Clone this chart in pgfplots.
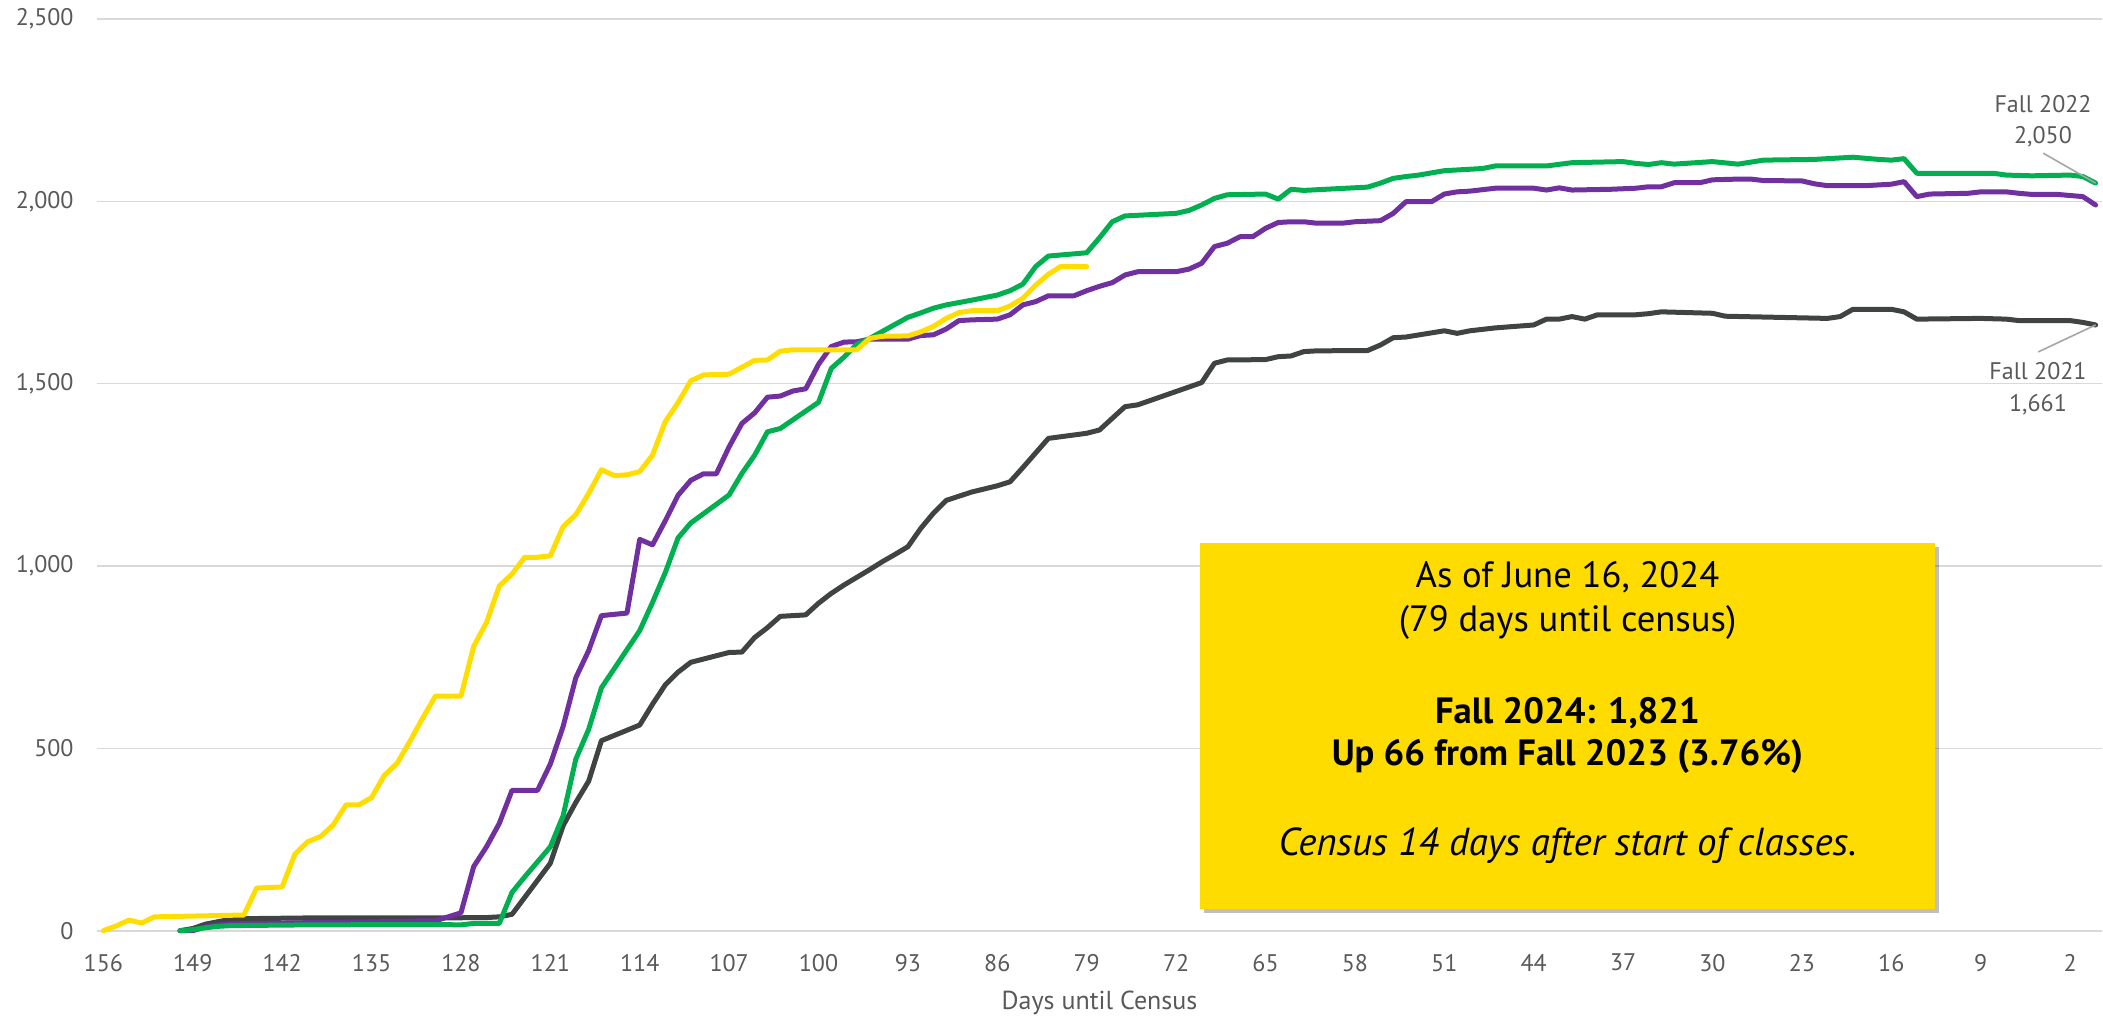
\documentclass[border=0pt]{standalone}
\usepackage{fontspec}
\setmainfont{PT Sans}
\usepackage{pgfplots}
\pgfplotsset{compat=1.18}
\usetikzlibrary{shadows}
\definecolor{cYel}{HTML}{FFDD00}
\definecolor{cPur}{HTML}{7030A0}
\definecolor{cGrn}{HTML}{00B050}
\definecolor{cGry}{HTML}{3F4443}
\definecolor{boxyel}{HTML}{FFDC00}
\definecolor{gridgray}{HTML}{D9D9D9}
\definecolor{labelgray}{HTML}{595959}
\definecolor{leadgray}{HTML}{A6A6A6}
\begin{document}
\begin{tikzpicture}
\useasboundingbox (-48.5pt,-44.15pt) rectangle (1003pt,465.35pt);
\begin{axis}[at={(0,0)}, anchor=south west, scale only axis,
  width=1002.5pt, height=455.85pt,
  xmin=-0.5, xmax=156.5, ymin=0, ymax=2500, x dir=reverse,
  xtick={2,9,...,156}, ytick={0,500,...,2500},
  ymajorgrids, grid style={draw=gridgray, line width=0.8pt},
  axis line style={draw=none}, major tick length=0pt, tick style={draw=none},
  ticklabel style={font=\fontsize{12}{14}\selectfont, text=labelgray, inner sep=0pt},
  yticklabel style={anchor=east, xshift=-11.5pt},
  xticklabel style={anchor=north, yshift=-11.5pt},
  /pgf/number format/1000 sep={,},
  /pgf/number format/assume math mode=true,
  clip=false, no markers,
  every axis plot/.append style={line width=2.5pt, line join=round, line cap=round}]
\addplot[cGry] coordinates {
(150,0)(149,6)(148,18)(147,25)(146,31)(145,33)(140,35)(130,35)(126,36)(125,38)(124,45)
(121,185)(120,288)(119,352)(118,410)(117,521)(114,564)(113,621)(112,674)(111,709)(110,736)
(107,763)(106,764)(105,804)(104,831)(103,862)(101,866)(100,898)(99,925)(98,948)(97,969)
(96,990)(95,1012)(94,1032)(93,1053)(92,1103)(91,1145)(90,1180)(88,1203)(86,1220)(85,1231)
(84,1270)(83,1310)(82,1350)(79,1364)(78,1373)(77,1405)(76,1437)(75,1442)(70,1503)(69,1556)
(68,1565)(65,1566)(64,1574)(63,1576)(62,1588)(61,1590)(57,1591)(56,1606)(55,1626)(54,1628)
(51,1645)(50,1638)(49,1645)(47,1653)(44,1661)(43,1677)(42,1677)(41,1684)(40,1677)(39,1689)
(36,1689)(35,1692)(34,1697)(30,1693)(29,1685)(21,1679)(20,1684)(19,1704)(16,1704)(15,1697)
(14,1677)(9,1679)(7,1677)(6,1673)(2,1673)(1,1668)(0,1661)};
\addplot[cPur] coordinates {
(150,0)(149,0)(148,11)(147,16)(146,19)(140,22)(135,24)(131,27)(130,27)(129,38)(128,49)
(127,176)(126,230)(125,294)(124,385)(122,385)(121,457)(120,560)(119,694)(118,768)(117,864)
(115,871)(114,1073)(113,1058)(112,1124)(111,1194)(110,1235)(109,1253)(108,1253)(107,1327)
(106,1391)(105,1420)(104,1463)(103,1466)(102,1480)(101,1486)(100,1553)(99,1602)(98,1614)
(97,1615)(96,1622)(93,1622)(92,1632)(91,1634)(90,1650)(89,1673)(88,1675)(86,1677)(85,1689)
(84,1716)(83,1725)(82,1741)(80,1741)(79,1755)(78,1767)(77,1777)(76,1798)(75,1807)(72,1807)
(71,1814)(70,1830)(69,1876)(68,1885)(67,1903)(66,1903)(65,1926)(64,1942)(63,1944)(62,1944)
(61,1940)(59,1940)(58,1944)(56,1947)(55,1967)(54,1999)(52,1999)(51,2020)(50,2026)(49,2028)
(47,2036)(44,2036)(43,2031)(42,2037)(41,2031)(38,2033)(36,2036)(35,2040)(34,2040)(33,2051)
(31,2051)(30,2059)(28,2061)(27,2061)(26,2057)(23,2056)(22,2048)(21,2043)(18,2043)(16,2047)
(15,2054)(14,2013)(13,2020)(10,2022)(9,2026)(7,2026)(6,2022)(5,2019)(3,2019)(1,2013)(0,1990)};
\addplot[cGrn] coordinates {
(150,0)(149,3)(148,8)(147,12)(146,14)(140,16)(130,17)(128,16)(127,20)(125,20)(124,105)
(123,148)(121,230)(120,315)(119,471)(118,552)(117,666)(114,823)(113,900)(112,982)(111,1077)
(110,1118)(107,1195)(106,1254)(105,1304)(104,1368)(103,1377)(100,1449)(99,1542)(98,1573)
(97,1608)(96,1624)(93,1682)(92,1694)(91,1707)(90,1716)(88,1729)(86,1743)(85,1755)(84,1773)
(83,1821)(82,1850)(79,1859)(78,1900)(77,1944)(76,1960)(72,1967)(71,1975)(70,1990)(69,2008)
(68,2018)(65,2020)(64,2006)(63,2033)(62,2030)(57,2039)(56,2050)(55,2063)(54,2068)(53,2072)
(51,2084)(48,2090)(47,2097)(43,2097)(41,2106)(37,2109)(36,2104)(35,2101)(34,2106)(33,2102)
(30,2109)(28,2102)(26,2113)(22,2115)(19,2121)(17,2115)(16,2113)(15,2117)(14,2077)(8,2077)
(7,2072)(5,2070)(2,2072)(1,2068)(0,2050)};
\addplot[cYel] coordinates {
(156,0)(155,13)(154,29)(153,21)(152,38)(145,43)(144,117)(142,120)(141,210)(140,244)(139,258)
(138,290)(137,345)(136,345)(135,365)(134,426)(133,459)(132,519)(131,583)(130,643)(128,643)
(127,780)(126,845)(125,945)(124,978)(123,1024)(122,1024)(121,1028)(120,1108)(119,1141)
(118,1199)(117,1264)(116,1248)(115,1250)(114,1259)(113,1304)(112,1396)(111,1448)(110,1508)
(109,1524)(107,1526)(106,1545)(105,1564)(104,1565)(103,1589)(102,1593)(97,1593)(96,1624)
(95,1630)(93,1631)(92,1642)(91,1657)(90,1679)(89,1695)(88,1700)(86,1700)(85,1713)(84,1734)
(83,1770)(82,1800)(81,1822)(79,1821)};
\draw[leadgray, line width=0.8pt] (axis cs:4.1,2132) -- (axis cs:0,2050);
\draw[leadgray, line width=0.8pt] (axis cs:4.5,1587) -- (axis cs:0,1661);
\end{axis}
\begin{scope}[every node/.style={text=labelgray, font=\fontsize{12}{14}\selectfont, inner sep=0pt, anchor=base}]
\node at (973pt,409.2pt) {Fall 2022};
\node at (973pt,393.7pt) {2,050};
\node at (970.5pt,275.35pt) {Fall 2021};
\node at (970.5pt,259.5pt) {1,661};
\end{scope}
\node[text=labelgray, font=\fontsize{13}{15}\selectfont, inner sep=0pt] at (501.25pt,-36.15pt) {Days until Census};
\path[fill=boxyel, drop shadow={shadow xshift=2pt, shadow yshift=-2pt, opacity=0.25, fill=black}] (551.5pt,10.85pt) rectangle (919pt,193.85pt);
\begin{scope}[every node/.style={text=black, font=\fontsize{18.3}{20}\selectfont, inner sep=0pt, anchor=base}]
\node at (735.25pt,171.7pt) {As of June 16, 2024};
\node at (735.25pt,149.5pt) {(79 days until census)};
\node[font=\fontsize{18.3}{20}\selectfont\bfseries] at (735.25pt,103.7pt) {Fall 2024: 1,821};
\node[font=\fontsize{18.3}{20}\selectfont\bfseries] at (735.25pt,82.85pt) {Up 66 from Fall 2023 (3.76\%)};
\node[font=\fontsize{19.5}{20}\selectfont\itshape] at (735.25pt,37.85pt) {Census 14 days after start of classes.};
\end{scope}
\end{tikzpicture}
\end{document}
